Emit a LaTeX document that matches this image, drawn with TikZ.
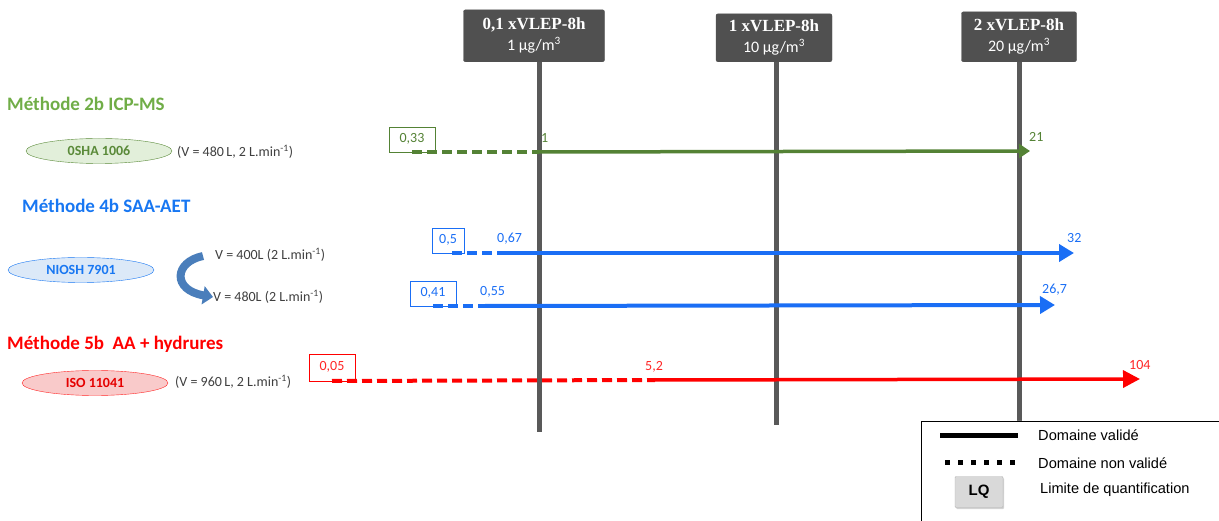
\documentclass[tikz,border=0pt]{standalone}
\usepackage{fontspec}
\setmainfont{Carlito}
\newfontfamily\serifb{Liberation Serif}
\newfontfamily\arialf{Liberation Sans}
\usetikzlibrary{arrows.meta,shadows,shapes.geometric}
\definecolor{hdr}{HTML}{505050}
\definecolor{vl}{HTML}{595959}
\definecolor{gtitle}{HTML}{70AD47}
\definecolor{garr}{HTML}{548235}
\definecolor{gfill}{HTML}{E2EFDA}
\definecolor{btitle}{HTML}{1877F2}
\definecolor{barr}{HTML}{1A6EF5}
\definecolor{bfill}{HTML}{DCE9F8}
\definecolor{rtitle}{HTML}{FF0000}
\definecolor{rfill}{HTML}{F9CACA}
\definecolor{ptxt}{HTML}{3F3F3F}
\definecolor{curv}{HTML}{4A7EBB}
\tikzset{
  hdrbox/.style={draw=hdr,fill=hdr,rounded corners=2pt,text=white,align=center,inner sep=0pt,minimum height=52pt,font=\fontsize{16}{21}\selectfont},
  vline/.style={draw=vl,line width=5pt},
  mtitle/.style={anchor=west,font=\fontsize{19}{22}\selectfont\bfseries,inner sep=0pt},
  meth/.style={ellipse,draw,minimum width=146pt,minimum height=25pt,inner sep=0pt,font=\fontsize{14}{16}\selectfont\bfseries},
  ptext/.style={anchor=west,text=ptxt,font=\fontsize{14}{16}\selectfont,inner sep=0pt},
  lqbox/.style={draw,fill=white,font=\fontsize{14}{16}\selectfont,inner sep=0pt,minimum height=25pt},
  numl/.style={font=\fontsize{14}{16}\selectfont,inner sep=0pt},
  dsh/.style={dash pattern=on 10pt off 5pt},
  legt/.style={anchor=west,font=\arialf\fontsize{14.6}{17}\selectfont,inner sep=0pt}
}
\begin{document}
\begin{tikzpicture}[x=1pt,y=-1pt]
\useasboundingbox (0,0) rectangle (1219,521);
% vertical lines
\coordinate (t1) at (539,62); \coordinate (b1) at (539,432);
\coordinate (t2) at (776,62); \coordinate (b2) at (776,425);
\coordinate (t3) at (1019,62); \coordinate (b3) at (1019,421);
\draw[vline] (t1) -- (b1);
\draw[vline] (t2) -- (b2);
\draw[vline] (t3) -- (b3);
% header boxes
\node[hdrbox,minimum width=141pt,anchor=south] (h1) at (534,62) {{\serifb\bfseries\fontsize{17}{21}\selectfont 0,1 xVLEP-8h}\\{1 µg/m\textsuperscript{3}}};
\node[hdrbox,minimum width=116pt,anchor=south,minimum height=48pt] (h2) at (774,62) {{\serifb\bfseries\fontsize{17}{21}\selectfont 1 xVLEP-8h}\\{10 µg/m\textsuperscript{3}}};
\node[hdrbox,minimum width=115pt,anchor=south,minimum height=50pt] (h3) at (1019,62) {{\serifb\bfseries\fontsize{17}{21}\selectfont 2 xVLEP-8h}\\{20 µg/m\textsuperscript{3}}};
% ---- Method 2b
\node[mtitle,text=gtitle] (m2) at (7,104) {Méthode 2b ICP-MS};
\node[meth,draw=gtitle!80!black,fill=gfill,text=gtitle!80!black] (e2) at (99,151) {0SHA 1006};
\node[ptext] (p2) at (177,152) {(V = 480\,L, 2 L.min\textsuperscript{-1})};
\node[lqbox,draw=garr,text=garr,minimum width=46pt,anchor=south] (q2) at (412,152) {0,33};
\coordinate (g1) at (539,152);
\coordinate (g2) at (1030,151);
\draw[garr,line width=3.5pt,dsh] (q2.south) -- (g1);
\draw[garr,line width=3.5pt,-{Triangle[length=11pt,width=14pt]}] (g1) -- (g2);
\node[numl,text=garr,anchor=west] (n1) at (541,138) {1};
\node[numl,text=garr,anchor=west] (n21) at (1029,137) {21};
% ---- Method 4b
\node[mtitle,text=btitle] (m4) at (22,206) {Méthode 4b SAA-AET};
\node[meth,draw=btitle,fill=bfill,text=btitle] (e4) at (81,270) {NIOSH 7901};
\node[ptext] (pa) at (215,255) {V = 400L (2 L.min\textsuperscript{-1})};
\node[ptext] (pb) at (213,297) {V = 480L (2 L.min\textsuperscript{-1})};
\draw[curv,line width=8pt,-{Triangle[length=10pt,width=18pt]}] (203,256) .. controls (174,262) and (172,290) .. (pb.west);
% row 1
\node[lqbox,draw=barr,text=barr,minimum width=32pt,anchor=south] (q5) at (448,253) {0,5};
\coordinate (s5) at (505,253);
\coordinate (a5) at (1074,253);
\draw[barr,line width=4pt,dsh] (452,253) -- (s5);
\draw[barr,line width=4pt,-{Triangle[length=15pt,width=17pt]}] (s5) -- (a5);
\node[numl,text=barr,anchor=west] (n067) at (497,239) {0,67};
\node[numl,text=barr,anchor=west] (n32) at (1067,238) {32};
% row 2
\node[lqbox,draw=barr,text=barr,minimum width=46pt,anchor=south] (q41) at (433,306) {0,41};
\coordinate (s41) at (485,306);
\coordinate (a41) at (1055,305);
\draw[barr,line width=4pt,dsh] (q41.south) -- (s41);
\draw[barr,line width=4pt,-{Triangle[length=15pt,width=17pt]}] (s41) -- (a41);
\node[numl,text=barr,anchor=west] (n055) at (480,292) {0,55};
\node[numl,text=barr,anchor=west] (n267) at (1042,290) {26,7};
% ---- Method 5b
\node[mtitle,text=rtitle] (m5) at (7,344) {Méthode 5b\ \ AA + hydrures};
\node[meth,draw=rtitle!85!white,fill=rfill,text=rtitle!90!black] (e5) at (95,383) {ISO 11041};
\node[ptext] (p5) at (175,382) {(V = 960\,L, 2 L.min\textsuperscript{-1})};
\node[lqbox,draw=rtitle,text=rtitle!85!white,minimum width=46pt,minimum height=27pt,anchor=south] (q05) at (332,381) {0,05};
\coordinate (s52) at (655,380);
\coordinate (a104) at (1140,379);
\draw[rtitle,line width=4pt,dsh] (q05.south) -- (s52);
\draw[rtitle,line width=3.5pt,-{Triangle[length=17pt,width=17pt]}] (s52) -- (a104);
\node[numl,text=rtitle!85!white,anchor=west] (n52) at (645,367) {5,2};
\node[numl,text=rtitle!85!white,anchor=west] (n104) at (1129,365) {104};
% ---- legend
\draw[black,line width=0.8pt,fill=white] (1219,421) -- (921,421) -- (921,521);
\coordinate (la) at (940,435); \coordinate (lb) at (1018,435);
\draw[black,line width=5pt] (la) -- (lb);
\node[legt] (l1) at (1038,435) {Domaine validé};
\coordinate (lc) at (945,462); \coordinate (ld) at (1020,462);
\draw[black,line width=5pt,dash pattern=on 5pt off 8pt] (lc) -- (ld);
\node[legt] (l2) at (1038,463) {Domaine non validé};
\node[draw=black!30,fill=black!15,drop shadow={opacity=0.35,shadow xshift=1pt,shadow yshift=-1.5pt},minimum width=48pt,minimum height=31pt,inner sep=0pt,font=\arialf\bfseries\fontsize{15}{17}\selectfont,rounded corners=1pt] (lq) at (979,492) {LQ};
\node[legt] (l3) at (1040,490) {Limite de quantification};
\end{tikzpicture}
\end{document}
